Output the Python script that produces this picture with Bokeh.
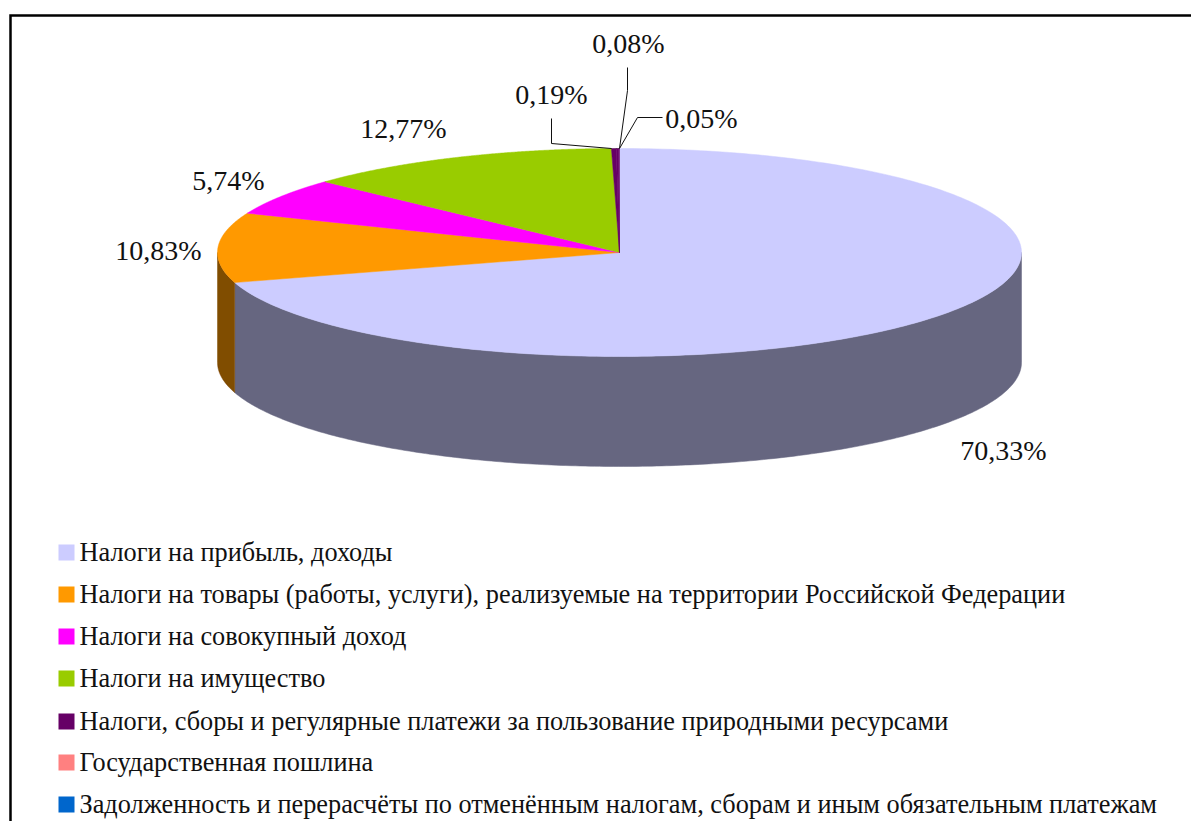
import numpy as np
from bokeh.embed import file_html
from bokeh.models import Range1d
from bokeh.plotting import figure
from bokeh.resources import INLINE
from bokeh.core.properties import value

categories = [
    "Налоги на прибыль, доходы",
    "Налоги на товары (работы, услуги), реализуемые на территории Российской Федерации",
    "Налоги на совокупный доход",
    "Налоги на имущество",
    "Налоги, сборы и регулярные платежи за пользование природными ресурсами",
    "Государственная пошлина",
    "Задолженность и перерасчёты по отменённым налогам, сборам и иным обязательным платежам",
]
shares = [70.33, 10.83, 5.74, 12.77, 0.19, 0.08, 0.05]
labels = ["70,33%", "10,83%", "5,74%", "12,77%", "0,19%", "0,08%", "0,05%"]
legend_colors = ["#CCCCFF", "#FF9900", "#FF00FF", "#99CC00", "#660066", "#FF8080", "#0066CC"]
top_colors = ["#CCCCFF", "#FF9900", "#FF00FF", "#99CC00", "#660066", "#660066", "#660066"]
side_colors = ["#666680", "#804D00"]

# layout of the drawing, in page pixels
CX, CY, RX, RY, DEPTH = 619.0, 252.0, 402.0, 104.0, 110.0
label_xy = [(1003, 450), (158, 250), (228, 180), (403, 128), (551, 94), (628, 43), (701, 118)]
leaders = [None, None, None, None,
           ([611, 551, 551], [148, 143, 118]),
           ([619, 627, 627], [148, 90, 67]),
           ([619, 637, 662], [148, 117, 117])]
LEGEND_Y = [552, 594, 636, 678, 721, 762, 804]

p = figure(width=1191, height=821, output_backend="svg", toolbar_location=None,
           x_range=Range1d(0, 1191), y_range=Range1d(821, 0),
           min_border=0, min_border_left=0, min_border_right=0, min_border_top=0, min_border_bottom=0,
           background_fill_color="white", border_fill_color="white", outline_line_color=None)
p.axis.visible = False
p.grid.visible = False


def rim(a0, a1):
    t = np.radians(np.linspace(a0, a1, 240))
    return CX + RX * np.sin(t), CY - RY * np.cos(t)


edges = np.concatenate([[0.0], np.cumsum(shares)]) / sum(shares) * 360.0

# visible wall: front half of the ellipse, from the right extreme round to the left extreme
for a0, a1, col in [(90.0, edges[1], side_colors[0]), (edges[1], 270.0, side_colors[1])]:
    x, y = rim(a0, a1)
    p.patch(np.r_[x, x[::-1]], np.r_[y, y[::-1] + DEPTH], fill_color=col, line_color=col, line_width=0.5)

# top face
for i, col in enumerate(top_colors):
    x, y = rim(edges[i], edges[i + 1])
    p.patch(np.r_[CX, x], np.r_[CY, y], fill_color=col, line_color=col, line_width=0.5)

# leader lines and value labels
for lead in leaders:
    if lead:
        p.line(lead[0], lead[1], line_color="#111111", line_width=1)
p.text([c[0] for c in label_xy], [c[1] for c in label_xy], text=labels,
       text_font=value("Liberation Serif"), text_font_size="28px", text_color="#111111",
       text_align="center", text_baseline="middle")

# legend
p.rect([66] * 7, LEGEND_Y, width=16, height=16, fill_color=legend_colors, line_color=None)
p.text([79] * 7, LEGEND_Y, text=categories,
       text_font=value("Liberation Serif"), text_font_size="26.3px", text_color="#111111",
       text_align="left", text_baseline="middle")

# frame: open at the right and bottom, where the picture is cropped
p.line([10, 10, 1191], [821, 15, 15], line_color="#000000", line_width=2.5, line_join="miter")

open("out.html", "w").write(file_html(p, INLINE))
